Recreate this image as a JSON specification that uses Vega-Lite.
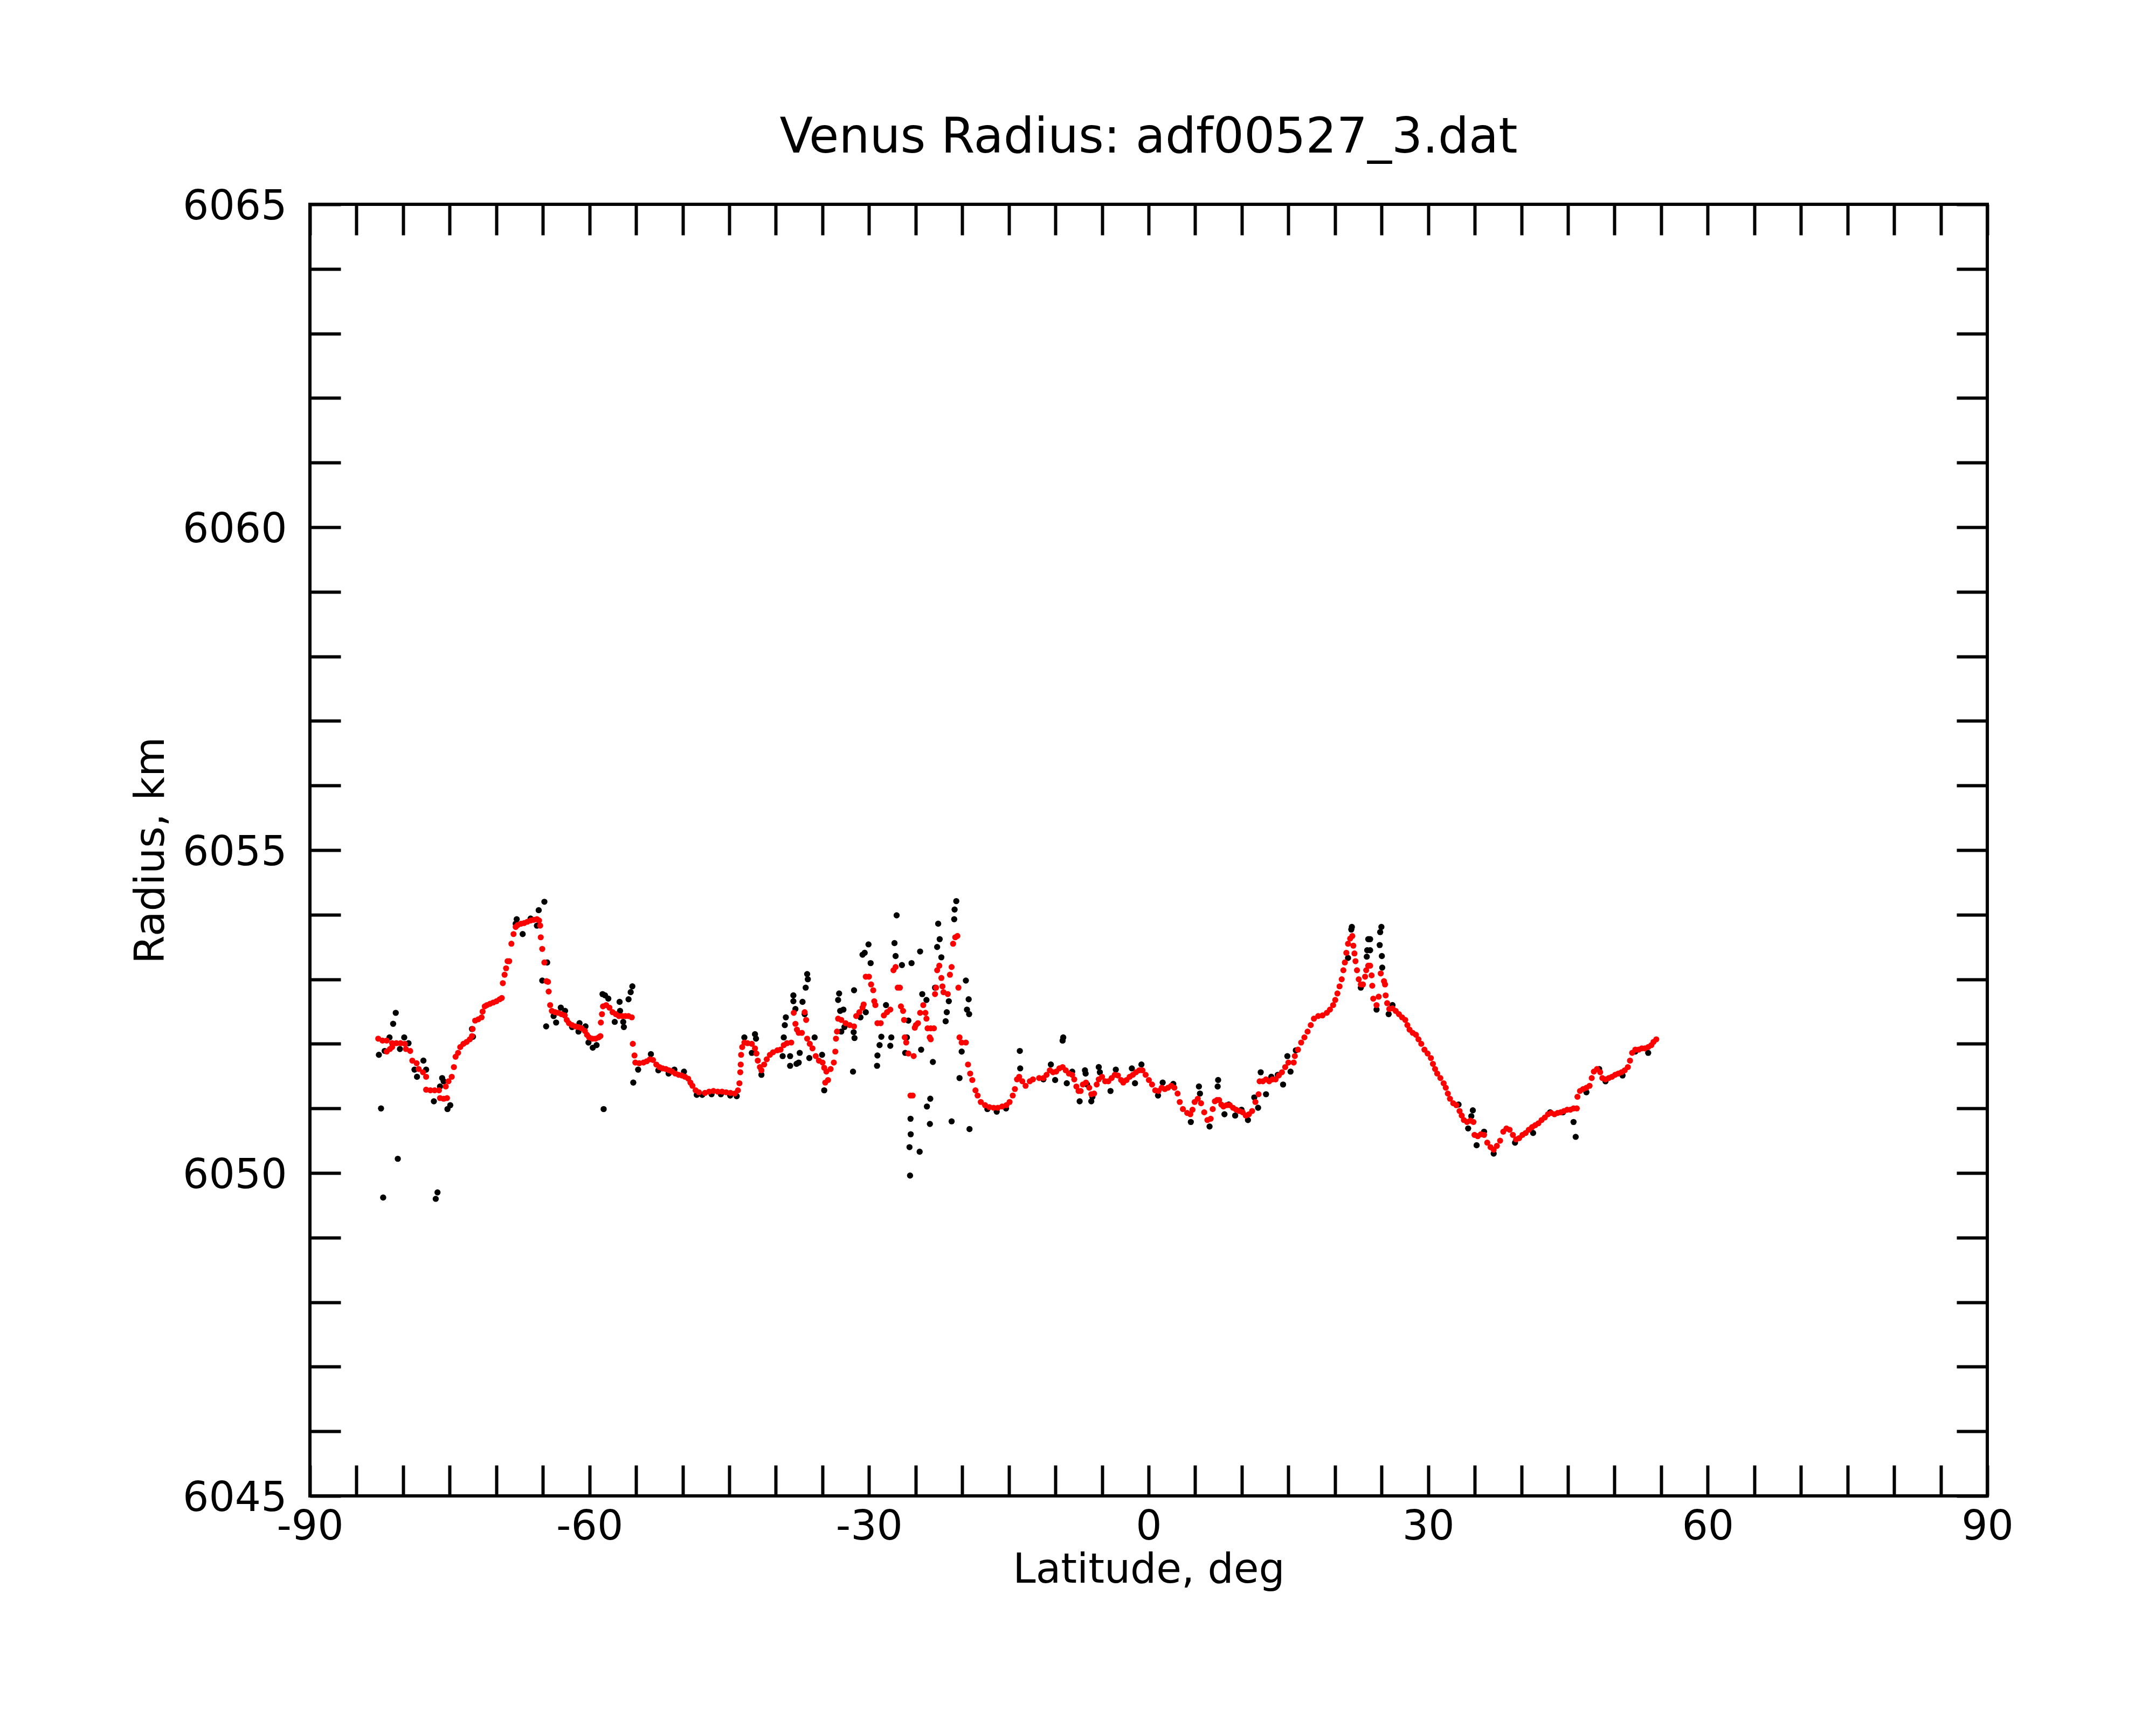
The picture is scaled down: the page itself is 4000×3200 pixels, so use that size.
{
  "$schema": "https://vega.github.io/schema/vega-lite/v6.json",
  "width": 3112,
  "height": 2396,
  "autosize": {"type": "none"},
  "padding": {"left": 575, "top": 379, "right": 313, "bottom": 425},
  "background": "white",
  "title": {
    "text": "Venus Radius: adf00527_3.dat",
    "font": "DejaVu Sans",
    "fontSize": 90,
    "fontWeight": "normal",
    "color": "black",
    "anchor": "middle",
    "baseline": "alphabetic",
    "offset": 94,
    "dy": 122
  },
  "config": {
    "view": {"stroke": "black", "strokeWidth": 6},
    "axis": {
      "labelFont": "DejaVu Sans",
      "labelFontSize": 76,
      "labelColor": "black",
      "labelLimit": 0,
      "titleFont": "DejaVu Sans",
      "titleFontSize": 76,
      "titleFontWeight": "normal",
      "titleColor": "black",
      "labelFlush": false,
      "labelOverlap": false,
      "labelExpr": "'' + datum.value",
      "ticks": false,
      "domain": false,
      "grid": true,
      "gridColor": "black",
      "gridOpacity": 1,
      "gridWidth": 6
    }
  },
  "datasets": {
    "smooth": [
      {"lat": -82.67, "r": 6052.08}, {"lat": -82.21, "r": 6052.05}, {"lat": -81.76, "r": 6052.05}, {"lat": -81.76, "r": 6051.88},
      {"lat": -81.41, "r": 6051.92}, {"lat": -81.18, "r": 6051.95}, {"lat": -81.18, "r": 6052.01}, {"lat": -80.73, "r": 6052.01},
      {"lat": -80.27, "r": 6052.01}, {"lat": -79.81, "r": 6052.0}, {"lat": -79.7, "r": 6051.92}, {"lat": -79.24, "r": 6051.89},
      {"lat": -79.01, "r": 6051.74}, {"lat": -78.55, "r": 6051.7}, {"lat": -78.33, "r": 6051.61}, {"lat": -77.87, "r": 6051.56},
      {"lat": -77.53, "r": 6051.49}, {"lat": -77.53, "r": 6051.29}, {"lat": -77.07, "r": 6051.28}, {"lat": -76.61, "r": 6051.28},
      {"lat": -76.15, "r": 6051.28}, {"lat": -76.04, "r": 6051.16}, {"lat": -75.65, "r": 6051.15}, {"lat": -75.29, "r": 6051.16},
      {"lat": -75.42, "r": 6051.34}, {"lat": -75.13, "r": 6051.42}, {"lat": -74.78, "r": 6051.49}, {"lat": -74.55, "r": 6051.64},
      {"lat": -74.37, "r": 6051.8}, {"lat": -74.1, "r": 6051.86}, {"lat": -73.87, "r": 6051.95}, {"lat": -73.53, "r": 6052.0},
      {"lat": -73.18, "r": 6052.03}, {"lat": -72.84, "r": 6052.07}, {"lat": -72.61, "r": 6052.12}, {"lat": -72.54, "r": 6052.23},
      {"lat": -72.27, "r": 6052.36}, {"lat": -71.93, "r": 6052.38}, {"lat": -71.58, "r": 6052.41}, {"lat": -71.47, "r": 6052.5},
      {"lat": -71.24, "r": 6052.58}, {"lat": -71.01, "r": 6052.6}, {"lat": -70.67, "r": 6052.62}, {"lat": -70.33, "r": 6052.64},
      {"lat": -69.98, "r": 6052.66}, {"lat": -69.64, "r": 6052.69}, {"lat": -69.41, "r": 6052.71}, {"lat": -69.3, "r": 6052.94},
      {"lat": -69.11, "r": 6053.07}, {"lat": -68.95, "r": 6053.17}, {"lat": -68.79, "r": 6053.28}, {"lat": -68.61, "r": 6053.28},
      {"lat": -68.38, "r": 6053.55}, {"lat": -68.15, "r": 6053.7}, {"lat": -67.92, "r": 6053.81}, {"lat": -67.7, "r": 6053.84},
      {"lat": -67.35, "r": 6053.86}, {"lat": -67.01, "r": 6053.87}, {"lat": -66.67, "r": 6053.89}, {"lat": -66.32, "r": 6053.91},
      {"lat": -65.98, "r": 6053.92}, {"lat": -65.64, "r": 6053.93}, {"lat": -65.41, "r": 6053.91}, {"lat": -65.29, "r": 6053.83},
      {"lat": -65.23, "r": 6053.65}, {"lat": -65.07, "r": 6053.47}, {"lat": -64.84, "r": 6053.26}, {"lat": -64.61, "r": 6052.97},
      {"lat": -64.45, "r": 6052.96}, {"lat": -64.38, "r": 6052.81}, {"lat": -64.22, "r": 6052.6}, {"lat": -64.04, "r": 6052.51},
      {"lat": -63.69, "r": 6052.49}, {"lat": -63.35, "r": 6052.48}, {"lat": -63.01, "r": 6052.46}, {"lat": -62.66, "r": 6052.44},
      {"lat": -62.44, "r": 6052.37}, {"lat": -62.21, "r": 6052.32}, {"lat": -61.87, "r": 6052.29}, {"lat": -61.52, "r": 6052.27},
      {"lat": -61.18, "r": 6052.26}, {"lat": -60.84, "r": 6052.24}, {"lat": -60.49, "r": 6052.2}, {"lat": -60.27, "r": 6052.14},
      {"lat": -60.04, "r": 6052.1}, {"lat": -59.69, "r": 6052.08}, {"lat": -59.35, "r": 6052.08}, {"lat": -59.01, "r": 6052.1},
      {"lat": -58.83, "r": 6052.12}, {"lat": -58.78, "r": 6052.33}, {"lat": -58.66, "r": 6052.46}, {"lat": -58.55, "r": 6052.58},
      {"lat": -58.21, "r": 6052.6}, {"lat": -57.86, "r": 6052.56}, {"lat": -57.52, "r": 6052.49}, {"lat": -57.18, "r": 6052.46},
      {"lat": -56.84, "r": 6052.43}, {"lat": -56.49, "r": 6052.43}, {"lat": -56.15, "r": 6052.43}, {"lat": -55.81, "r": 6052.43},
      {"lat": -55.46, "r": 6052.41}, {"lat": -55.35, "r": 6052.0}, {"lat": -55.17, "r": 6051.82}, {"lat": -55.08, "r": 6051.71},
      {"lat": -54.66, "r": 6051.7}, {"lat": -54.2, "r": 6051.71}, {"lat": -53.86, "r": 6051.73}, {"lat": -53.52, "r": 6051.76},
      {"lat": -53.18, "r": 6051.75}, {"lat": -52.83, "r": 6051.68}, {"lat": -52.49, "r": 6051.64}, {"lat": -52.15, "r": 6051.62},
      {"lat": -51.8, "r": 6051.61}, {"lat": -51.46, "r": 6051.59}, {"lat": -51.12, "r": 6051.57}, {"lat": -50.78, "r": 6051.54},
      {"lat": -50.43, "r": 6051.52}, {"lat": -50.09, "r": 6051.51}, {"lat": -49.75, "r": 6051.49}, {"lat": -49.4, "r": 6051.46},
      {"lat": -49.17, "r": 6051.4}, {"lat": -48.95, "r": 6051.35}, {"lat": -48.61, "r": 6051.28}, {"lat": -48.26, "r": 6051.25},
      {"lat": -47.61, "r": 6051.24}, {"lat": -47.16, "r": 6051.26}, {"lat": -46.7, "r": 6051.27}, {"lat": -46.24, "r": 6051.26},
      {"lat": -45.78, "r": 6051.26}, {"lat": -45.33, "r": 6051.25}, {"lat": -44.87, "r": 6051.24}, {"lat": -44.41, "r": 6051.23},
      {"lat": -44.07, "r": 6051.28}, {"lat": -43.91, "r": 6051.39}, {"lat": -43.82, "r": 6051.56}, {"lat": -43.77, "r": 6051.68},
      {"lat": -43.73, "r": 6051.83}, {"lat": -43.61, "r": 6051.95}, {"lat": -43.38, "r": 6052.02}, {"lat": -43.04, "r": 6052.01},
      {"lat": -42.58, "r": 6052.0}, {"lat": -42.24, "r": 6051.93}, {"lat": -42.08, "r": 6051.85}, {"lat": -41.94, "r": 6051.74},
      {"lat": -41.71, "r": 6051.64}, {"lat": -41.55, "r": 6051.59}, {"lat": -41.26, "r": 6051.68}, {"lat": -40.98, "r": 6051.76},
      {"lat": -40.64, "r": 6051.83}, {"lat": -40.3, "r": 6051.87}, {"lat": -39.84, "r": 6051.9}, {"lat": -39.5, "r": 6051.91},
      {"lat": -39.15, "r": 6051.98}, {"lat": -38.81, "r": 6052.01}, {"lat": -38.35, "r": 6052.02}, {"lat": -38.08, "r": 6052.48},
      {"lat": -37.9, "r": 6052.31}, {"lat": -37.74, "r": 6052.22}, {"lat": -37.55, "r": 6052.17}, {"lat": -37.21, "r": 6052.17},
      {"lat": -36.91, "r": 6052.49}, {"lat": -36.75, "r": 6052.37}, {"lat": -36.64, "r": 6052.08}, {"lat": -36.36, "r": 6052.0},
      {"lat": -36.07, "r": 6051.93}, {"lat": -35.72, "r": 6051.81}, {"lat": -35.38, "r": 6051.74}, {"lat": -34.99, "r": 6051.71},
      {"lat": -34.81, "r": 6051.63}, {"lat": -34.58, "r": 6051.57}, {"lat": -34.4, "r": 6051.44}, {"lat": -34.7, "r": 6051.4},
      {"lat": -34.12, "r": 6051.61}, {"lat": -33.78, "r": 6051.71}, {"lat": -33.62, "r": 6051.88}, {"lat": -33.55, "r": 6052.08},
      {"lat": -33.44, "r": 6052.19}, {"lat": -33.32, "r": 6052.39}, {"lat": -32.98, "r": 6052.37}, {"lat": -32.52, "r": 6052.32},
      {"lat": -32.07, "r": 6052.29}, {"lat": -31.61, "r": 6052.27}, {"lat": -31.38, "r": 6052.43}, {"lat": -31.04, "r": 6052.49},
      {"lat": -30.7, "r": 6052.56}, {"lat": -30.58, "r": 6052.61}, {"lat": -30.35, "r": 6053.04}, {"lat": -30.01, "r": 6053.04},
      {"lat": -29.78, "r": 6052.92}, {"lat": -29.55, "r": 6052.83}, {"lat": -29.44, "r": 6052.66}, {"lat": -29.32, "r": 6052.6},
      {"lat": -29.1, "r": 6052.32}, {"lat": -28.75, "r": 6052.32}, {"lat": -28.41, "r": 6052.44}, {"lat": -28.07, "r": 6052.49},
      {"lat": -27.72, "r": 6052.53}, {"lat": -27.38, "r": 6053.14}, {"lat": -27.15, "r": 6053.19}, {"lat": -26.92, "r": 6052.87},
      {"lat": -26.69, "r": 6052.87}, {"lat": -26.58, "r": 6052.58}, {"lat": -26.35, "r": 6052.51}, {"lat": -26.24, "r": 6052.37},
      {"lat": -26.17, "r": 6052.1}, {"lat": -26.01, "r": 6052.02}, {"lat": -25.78, "r": 6051.85}, {"lat": -25.21, "r": 6051.81},
      {"lat": -25.55, "r": 6051.2}, {"lat": -25.32, "r": 6051.2}, {"lat": -25.09, "r": 6052.25}, {"lat": -24.98, "r": 6052.29},
      {"lat": -24.75, "r": 6052.32}, {"lat": -24.52, "r": 6052.48}, {"lat": -24.18, "r": 6052.6}, {"lat": -23.95, "r": 6052.48},
      {"lat": -23.84, "r": 6052.39}, {"lat": -23.72, "r": 6052.24}, {"lat": -23.38, "r": 6052.24}, {"lat": -23.04, "r": 6052.24},
      {"lat": -23.49, "r": 6052.1}, {"lat": -23.38, "r": 6052.07}, {"lat": -22.92, "r": 6052.77}, {"lat": -22.81, "r": 6052.87},
      {"lat": -22.69, "r": 6053.14}, {"lat": -22.46, "r": 6053.21}, {"lat": -22.24, "r": 6053.02}, {"lat": -22.12, "r": 6052.89},
      {"lat": -22.01, "r": 6052.8}, {"lat": -21.55, "r": 6052.77}, {"lat": -21.32, "r": 6053.07}, {"lat": -21.14, "r": 6053.19},
      {"lat": -20.98, "r": 6053.55}, {"lat": -20.75, "r": 6053.65}, {"lat": -20.52, "r": 6053.67}, {"lat": -20.41, "r": 6052.87},
      {"lat": -20.29, "r": 6052.1}, {"lat": -20.06, "r": 6052.02}, {"lat": -19.61, "r": 6052.02}, {"lat": -19.38, "r": 6051.68},
      {"lat": -19.15, "r": 6051.54}, {"lat": -18.92, "r": 6051.44}, {"lat": -18.58, "r": 6051.28}, {"lat": -18.35, "r": 6051.2},
      {"lat": -18.01, "r": 6051.1}, {"lat": -17.55, "r": 6051.05}, {"lat": -17.09, "r": 6051.02}, {"lat": -16.63, "r": 6051.01},
      {"lat": -16.18, "r": 6051.01}, {"lat": -15.72, "r": 6051.03}, {"lat": -15.26, "r": 6051.05}, {"lat": -14.92, "r": 6051.1},
      {"lat": -14.58, "r": 6051.2}, {"lat": -14.35, "r": 6051.3}, {"lat": -14.12, "r": 6051.45}, {"lat": -13.89, "r": 6051.49},
      {"lat": -13.55, "r": 6051.42}, {"lat": -13.2, "r": 6051.35}, {"lat": -12.75, "r": 6051.42}, {"lat": -12.41, "r": 6051.45},
      {"lat": -11.75, "r": 6051.47}, {"lat": -11.29, "r": 6051.47}, {"lat": -10.95, "r": 6051.52}, {"lat": -10.6, "r": 6051.59},
      {"lat": -10.26, "r": 6051.56}, {"lat": -9.92, "r": 6051.57}, {"lat": -9.58, "r": 6051.62}, {"lat": -9.23, "r": 6051.64},
      {"lat": -8.89, "r": 6051.59}, {"lat": -8.55, "r": 6051.54}, {"lat": -8.2, "r": 6051.52}, {"lat": -7.98, "r": 6051.45},
      {"lat": -7.75, "r": 6051.34}, {"lat": -7.52, "r": 6051.27}, {"lat": -7.29, "r": 6051.27}, {"lat": -7.06, "r": 6051.37},
      {"lat": -6.72, "r": 6051.4}, {"lat": -6.37, "r": 6051.32}, {"lat": -6.15, "r": 6051.22}, {"lat": -5.85, "r": 6051.23},
      {"lat": -5.57, "r": 6051.37}, {"lat": -5.35, "r": 6051.45}, {"lat": -5.0, "r": 6051.49}, {"lat": -4.66, "r": 6051.42},
      {"lat": -4.32, "r": 6051.42}, {"lat": -3.97, "r": 6051.47}, {"lat": -3.63, "r": 6051.52}, {"lat": -3.29, "r": 6051.51},
      {"lat": -2.95, "r": 6051.44}, {"lat": -2.72, "r": 6051.4}, {"lat": -2.37, "r": 6051.44}, {"lat": -2.03, "r": 6051.49},
      {"lat": -1.69, "r": 6051.52}, {"lat": -1.35, "r": 6051.56}, {"lat": -1.0, "r": 6051.59}, {"lat": -0.66, "r": 6051.59},
      {"lat": -0.32, "r": 6051.52}, {"lat": 0.03, "r": 6051.44}, {"lat": 0.37, "r": 6051.37}, {"lat": 0.71, "r": 6051.28},
      {"lat": 1.06, "r": 6051.27}, {"lat": 1.4, "r": 6051.32}, {"lat": 1.74, "r": 6051.3}, {"lat": 2.08, "r": 6051.32},
      {"lat": 2.43, "r": 6051.35}, {"lat": 2.77, "r": 6051.32}, {"lat": 3.11, "r": 6051.23}, {"lat": 3.34, "r": 6051.1},
      {"lat": 3.68, "r": 6050.99}, {"lat": 4.14, "r": 6050.93}, {"lat": 4.48, "r": 6050.91}, {"lat": 4.71, "r": 6050.98},
      {"lat": 4.94, "r": 6051.1}, {"lat": 5.28, "r": 6051.15}, {"lat": 5.63, "r": 6051.08}, {"lat": 5.97, "r": 6050.94},
      {"lat": 6.31, "r": 6050.82}, {"lat": 6.66, "r": 6050.84}, {"lat": 6.88, "r": 6050.99}, {"lat": 7.11, "r": 6051.11},
      {"lat": 7.34, "r": 6051.13}, {"lat": 7.57, "r": 6051.13}, {"lat": 7.8, "r": 6051.06}, {"lat": 8.03, "r": 6051.03},
      {"lat": 8.37, "r": 6051.05}, {"lat": 8.71, "r": 6051.05}, {"lat": 9.06, "r": 6051.01}, {"lat": 9.4, "r": 6050.98},
      {"lat": 9.74, "r": 6050.96}, {"lat": 10.09, "r": 6050.94}, {"lat": 10.43, "r": 6050.89}, {"lat": 10.77, "r": 6050.91},
      {"lat": 11.11, "r": 6050.96}, {"lat": 11.46, "r": 6051.1}, {"lat": 11.8, "r": 6051.22}, {"lat": 11.91, "r": 6051.42},
      {"lat": 12.26, "r": 6051.42}, {"lat": 12.6, "r": 6051.45}, {"lat": 12.94, "r": 6051.42}, {"lat": 13.29, "r": 6051.45},
      {"lat": 13.63, "r": 6051.45}, {"lat": 13.97, "r": 6051.51}, {"lat": 14.31, "r": 6051.56}, {"lat": 14.66, "r": 6051.64},
      {"lat": 15.0, "r": 6051.71}, {"lat": 15.57, "r": 6051.71}, {"lat": 15.69, "r": 6051.81}, {"lat": 16.03, "r": 6051.91},
      {"lat": 16.37, "r": 6052.02}, {"lat": 16.72, "r": 6052.1}, {"lat": 17.06, "r": 6052.19}, {"lat": 17.4, "r": 6052.29},
      {"lat": 17.74, "r": 6052.39}, {"lat": 18.2, "r": 6052.43}, {"lat": 18.66, "r": 6052.44}, {"lat": 19.12, "r": 6052.48},
      {"lat": 19.46, "r": 6052.53}, {"lat": 19.8, "r": 6052.6}, {"lat": 20.03, "r": 6052.68}, {"lat": 20.26, "r": 6052.78},
      {"lat": 20.49, "r": 6052.89}, {"lat": 20.72, "r": 6053.0}, {"lat": 20.9, "r": 6053.14}, {"lat": 21.06, "r": 6053.26},
      {"lat": 21.22, "r": 6053.41}, {"lat": 21.4, "r": 6053.55}, {"lat": 21.63, "r": 6053.63}, {"lat": 21.86, "r": 6053.67},
      {"lat": 21.97, "r": 6053.52}, {"lat": 22.09, "r": 6053.4}, {"lat": 22.2, "r": 6053.28}, {"lat": 22.36, "r": 6053.14},
      {"lat": 22.55, "r": 6053.0}, {"lat": 22.77, "r": 6052.92}, {"lat": 23.0, "r": 6052.92}, {"lat": 23.23, "r": 6053.04},
      {"lat": 23.35, "r": 6053.14}, {"lat": 23.57, "r": 6053.21}, {"lat": 23.77, "r": 6053.21}, {"lat": 23.93, "r": 6053.06},
      {"lat": 24.0, "r": 6052.9}, {"lat": 24.11, "r": 6052.7}, {"lat": 24.46, "r": 6052.6}, {"lat": 24.69, "r": 6052.73},
      {"lat": 24.91, "r": 6053.09}, {"lat": 25.26, "r": 6052.97}, {"lat": 25.37, "r": 6052.92}, {"lat": 25.44, "r": 6052.75},
      {"lat": 25.6, "r": 6052.63}, {"lat": 25.83, "r": 6052.54}, {"lat": 26.17, "r": 6052.55}, {"lat": 26.51, "r": 6052.51},
      {"lat": 26.86, "r": 6052.46}, {"lat": 27.2, "r": 6052.41}, {"lat": 27.54, "r": 6052.37}, {"lat": 27.77, "r": 6052.29},
      {"lat": 28.0, "r": 6052.22}, {"lat": 28.34, "r": 6052.17}, {"lat": 28.69, "r": 6052.14}, {"lat": 28.96, "r": 6052.07},
      {"lat": 29.26, "r": 6052.0}, {"lat": 29.6, "r": 6051.91}, {"lat": 29.94, "r": 6051.85}, {"lat": 30.29, "r": 6051.78},
      {"lat": 30.51, "r": 6051.69}, {"lat": 30.74, "r": 6051.61}, {"lat": 30.97, "r": 6051.54}, {"lat": 31.31, "r": 6051.47},
      {"lat": 31.66, "r": 6051.39}, {"lat": 31.89, "r": 6051.32}, {"lat": 32.11, "r": 6051.23}, {"lat": 32.34, "r": 6051.15},
      {"lat": 32.69, "r": 6051.08}, {"lat": 33.03, "r": 6051.05}, {"lat": 33.37, "r": 6050.96}, {"lat": 33.6, "r": 6050.89},
      {"lat": 33.83, "r": 6050.82}, {"lat": 34.17, "r": 6050.79}, {"lat": 34.52, "r": 6050.81}, {"lat": 34.86, "r": 6050.79},
      {"lat": 34.97, "r": 6050.59}, {"lat": 35.32, "r": 6050.57}, {"lat": 35.66, "r": 6050.6}, {"lat": 36.0, "r": 6050.59},
      {"lat": 36.34, "r": 6050.47}, {"lat": 36.69, "r": 6050.4}, {"lat": 37.03, "r": 6050.36}, {"lat": 37.37, "r": 6050.42},
      {"lat": 37.72, "r": 6050.5}, {"lat": 38.06, "r": 6050.64}, {"lat": 38.4, "r": 6050.69}, {"lat": 38.74, "r": 6050.67},
      {"lat": 39.09, "r": 6050.59}, {"lat": 39.43, "r": 6050.52}, {"lat": 39.77, "r": 6050.54}, {"lat": 40.12, "r": 6050.59},
      {"lat": 40.46, "r": 6050.62}, {"lat": 40.8, "r": 6050.67}, {"lat": 41.15, "r": 6050.71}, {"lat": 41.49, "r": 6050.74},
      {"lat": 41.83, "r": 6050.77}, {"lat": 42.17, "r": 6050.82}, {"lat": 42.52, "r": 6050.86}, {"lat": 42.86, "r": 6050.91},
      {"lat": 43.2, "r": 6050.93}, {"lat": 43.55, "r": 6050.91}, {"lat": 43.89, "r": 6050.93}, {"lat": 44.23, "r": 6050.94},
      {"lat": 44.58, "r": 6050.96}, {"lat": 44.92, "r": 6050.98}, {"lat": 45.26, "r": 6050.98}, {"lat": 45.6, "r": 6051.0},
      {"lat": 45.95, "r": 6051.0}, {"lat": 46.02, "r": 6051.18}, {"lat": 46.29, "r": 6051.27}, {"lat": 46.63, "r": 6051.3},
      {"lat": 46.98, "r": 6051.32}, {"lat": 47.32, "r": 6051.35}, {"lat": 47.55, "r": 6051.47}, {"lat": 47.78, "r": 6051.57},
      {"lat": 48.12, "r": 6051.61}, {"lat": 48.46, "r": 6051.56}, {"lat": 48.69, "r": 6051.47}, {"lat": 49.03, "r": 6051.45},
      {"lat": 49.38, "r": 6051.47}, {"lat": 49.72, "r": 6051.49}, {"lat": 50.06, "r": 6051.52}, {"lat": 50.4, "r": 6051.54},
      {"lat": 50.75, "r": 6051.56}, {"lat": 51.09, "r": 6051.59}, {"lat": 51.43, "r": 6051.64}, {"lat": 51.66, "r": 6051.74},
      {"lat": 51.89, "r": 6051.86}, {"lat": 52.23, "r": 6051.91}, {"lat": 52.58, "r": 6051.91}, {"lat": 52.92, "r": 6051.93},
      {"lat": 53.26, "r": 6051.93}, {"lat": 53.61, "r": 6051.95}, {"lat": 53.95, "r": 6051.98}, {"lat": 54.18, "r": 6052.03},
      {"lat": 54.48, "r": 6052.07}
    ],
    "raw": [
      {"lat": -82.6, "r": 6051.83}, {"lat": -82.37, "r": 6051.0}, {"lat": -82.14, "r": 6049.62}, {"lat": -81.98, "r": 6051.89},
      {"lat": -81.46, "r": 6052.1}, {"lat": -81.07, "r": 6052.31}, {"lat": -80.79, "r": 6052.48}, {"lat": -80.57, "r": 6050.22},
      {"lat": -80.34, "r": 6051.92}, {"lat": -79.88, "r": 6052.1}, {"lat": -79.42, "r": 6052.01}, {"lat": -78.78, "r": 6051.6},
      {"lat": -78.51, "r": 6051.49}, {"lat": -77.82, "r": 6051.74}, {"lat": -77.53, "r": 6051.6}, {"lat": -76.7, "r": 6051.11},
      {"lat": -76.5, "r": 6049.6}, {"lat": -76.31, "r": 6049.7}, {"lat": -76.04, "r": 6051.34}, {"lat": -75.81, "r": 6051.47},
      {"lat": -75.65, "r": 6051.42}, {"lat": -75.24, "r": 6050.99}, {"lat": -74.94, "r": 6051.05}, {"lat": -72.61, "r": 6052.23},
      {"lat": -72.5, "r": 6052.11}, {"lat": -67.92, "r": 6053.86}, {"lat": -67.81, "r": 6053.93}, {"lat": -67.17, "r": 6053.7},
      {"lat": -66.32, "r": 6053.94}, {"lat": -65.64, "r": 6053.83}, {"lat": -65.45, "r": 6054.07}, {"lat": -64.84, "r": 6054.2},
      {"lat": -65.07, "r": 6052.98}, {"lat": -64.54, "r": 6053.26}, {"lat": -64.65, "r": 6052.27}, {"lat": -63.85, "r": 6052.43},
      {"lat": -63.58, "r": 6052.33}, {"lat": -63.08, "r": 6052.56}, {"lat": -62.62, "r": 6052.51}, {"lat": -61.87, "r": 6052.26},
      {"lat": -61.18, "r": 6052.19}, {"lat": -61.07, "r": 6052.32}, {"lat": -60.43, "r": 6052.27}, {"lat": -60.11, "r": 6052.02},
      {"lat": -59.65, "r": 6051.94}, {"lat": -59.24, "r": 6051.98}, {"lat": -58.6, "r": 6052.77}, {"lat": -58.33, "r": 6052.75},
      {"lat": -57.98, "r": 6052.7}, {"lat": -58.48, "r": 6050.99}, {"lat": -57.29, "r": 6052.34}, {"lat": -56.77, "r": 6052.65},
      {"lat": -56.72, "r": 6052.51}, {"lat": -56.38, "r": 6052.34}, {"lat": -56.31, "r": 6052.26}, {"lat": -55.81, "r": 6052.69},
      {"lat": -55.58, "r": 6052.8}, {"lat": -55.4, "r": 6052.89}, {"lat": -55.3, "r": 6051.4}, {"lat": -54.78, "r": 6051.6},
      {"lat": -53.41, "r": 6051.84}, {"lat": -52.61, "r": 6051.59}, {"lat": -51.51, "r": 6051.54}, {"lat": -50.89, "r": 6051.6},
      {"lat": -49.86, "r": 6051.57}, {"lat": -48.49, "r": 6051.21}, {"lat": -47.9, "r": 6051.21}, {"lat": -46.9, "r": 6051.22},
      {"lat": -45.9, "r": 6051.22}, {"lat": -44.9, "r": 6051.2}, {"lat": -44.2, "r": 6051.19}, {"lat": -43.38, "r": 6052.1},
      {"lat": -42.24, "r": 6052.15}, {"lat": -42.13, "r": 6052.08}, {"lat": -42.58, "r": 6051.86}, {"lat": -41.55, "r": 6051.52},
      {"lat": -38.93, "r": 6052.41}, {"lat": -39.04, "r": 6052.29}, {"lat": -39.15, "r": 6052.1}, {"lat": -39.27, "r": 6051.81},
      {"lat": -38.47, "r": 6051.66}, {"lat": -38.12, "r": 6052.75}, {"lat": -38.12, "r": 6052.66}, {"lat": -37.9, "r": 6052.54},
      {"lat": -37.14, "r": 6052.65}, {"lat": -36.91, "r": 6052.46}, {"lat": -36.64, "r": 6053.08}, {"lat": -36.57, "r": 6053.0},
      {"lat": -36.8, "r": 6052.87}, {"lat": -37.44, "r": 6051.86}, {"lat": -37.55, "r": 6051.71}, {"lat": -37.78, "r": 6051.69},
      {"lat": -38.47, "r": 6051.81}, {"lat": -36.41, "r": 6051.78}, {"lat": -35.84, "r": 6052.1}, {"lat": -35.04, "r": 6051.83},
      {"lat": -34.81, "r": 6051.28}, {"lat": -33.21, "r": 6052.78}, {"lat": -33.32, "r": 6052.68}, {"lat": -33.1, "r": 6052.51},
      {"lat": -32.75, "r": 6052.53}, {"lat": -32.98, "r": 6052.19}, {"lat": -32.64, "r": 6052.26}, {"lat": -31.61, "r": 6052.83},
      {"lat": -31.65, "r": 6052.18}, {"lat": -31.56, "r": 6052.09}, {"lat": -31.72, "r": 6051.57}, {"lat": -30.7, "r": 6053.38},
      {"lat": -30.47, "r": 6053.41}, {"lat": -30.06, "r": 6053.54}, {"lat": -29.83, "r": 6053.25}, {"lat": -30.92, "r": 6052.41},
      {"lat": -30.35, "r": 6052.49}, {"lat": -29.1, "r": 6051.82}, {"lat": -29.14, "r": 6051.66}, {"lat": -28.87, "r": 6051.98},
      {"lat": -28.68, "r": 6052.11}, {"lat": -28.18, "r": 6052.6}, {"lat": -27.61, "r": 6052.1}, {"lat": -27.72, "r": 6051.97},
      {"lat": -27.04, "r": 6053.99}, {"lat": -27.27, "r": 6053.56}, {"lat": -27.15, "r": 6053.36}, {"lat": -26.47, "r": 6053.22},
      {"lat": -25.44, "r": 6053.25}, {"lat": -26.12, "r": 6051.86}, {"lat": -25.94, "r": 6052.1}, {"lat": -25.78, "r": 6052.36},
      {"lat": -24.52, "r": 6053.43}, {"lat": -24.41, "r": 6051.91}, {"lat": -24.29, "r": 6052.77}, {"lat": -23.84, "r": 6052.68},
      {"lat": -23.15, "r": 6051.72}, {"lat": -22.58, "r": 6053.86}, {"lat": -22.42, "r": 6053.62}, {"lat": -22.69, "r": 6053.5},
      {"lat": -22.24, "r": 6053.34}, {"lat": -22.92, "r": 6052.87}, {"lat": -21.44, "r": 6052.66}, {"lat": -21.66, "r": 6052.49},
      {"lat": -21.78, "r": 6052.35}, {"lat": -20.64, "r": 6054.21}, {"lat": -20.82, "r": 6054.08}, {"lat": -20.86, "r": 6053.93},
      {"lat": -19.61, "r": 6052.98}, {"lat": -19.31, "r": 6052.69}, {"lat": -19.49, "r": 6052.53}, {"lat": -19.26, "r": 6052.46},
      {"lat": -20.06, "r": 6051.88}, {"lat": -20.29, "r": 6051.47}, {"lat": -19.22, "r": 6050.68}, {"lat": -21.14, "r": 6050.8},
      {"lat": -13.82, "r": 6051.89}, {"lat": -13.78, "r": 6051.62}, {"lat": -25.55, "r": 6050.84}, {"lat": -25.53, "r": 6050.6},
      {"lat": -25.66, "r": 6050.4}, {"lat": -25.6, "r": 6049.96}, {"lat": -24.57, "r": 6050.33}, {"lat": -23.43, "r": 6051.15},
      {"lat": -23.79, "r": 6051.03}, {"lat": -23.47, "r": 6050.76}, {"lat": -17.3, "r": 6050.99}, {"lat": -16.3, "r": 6050.95},
      {"lat": -15.3, "r": 6051.0}, {"lat": -9.23, "r": 6052.05}, {"lat": -9.16, "r": 6052.1}, {"lat": -10.49, "r": 6051.68},
      {"lat": -10.03, "r": 6051.44}, {"lat": -11.29, "r": 6051.45}, {"lat": -8.78, "r": 6051.39}, {"lat": -8.2, "r": 6051.57},
      {"lat": -7.4, "r": 6051.11}, {"lat": -6.83, "r": 6051.59}, {"lat": -6.76, "r": 6051.54}, {"lat": -6.6, "r": 6051.37},
      {"lat": -6.15, "r": 6051.11}, {"lat": -6.03, "r": 6051.18}, {"lat": -5.35, "r": 6051.64}, {"lat": -5.23, "r": 6051.56},
      {"lat": -4.09, "r": 6051.27}, {"lat": -3.52, "r": 6051.6}, {"lat": -1.8, "r": 6051.62}, {"lat": -0.77, "r": 6051.68},
      {"lat": -1.46, "r": 6051.39}, {"lat": 1.01, "r": 6051.2}, {"lat": 1.51, "r": 6051.4}, {"lat": 2.65, "r": 6051.38},
      {"lat": 5.4, "r": 6051.34}, {"lat": 4.53, "r": 6050.79}, {"lat": 5.51, "r": 6051.23}, {"lat": 6.54, "r": 6050.72},
      {"lat": 7.46, "r": 6051.44}, {"lat": 7.41, "r": 6051.34}, {"lat": 8.14, "r": 6050.91}, {"lat": 8.6, "r": 6051.06},
      {"lat": 9.29, "r": 6050.89}, {"lat": 9.97, "r": 6050.98}, {"lat": 10.66, "r": 6050.82}, {"lat": 11.34, "r": 6051.17},
      {"lat": 11.75, "r": 6051.01}, {"lat": 12.03, "r": 6051.56}, {"lat": 12.6, "r": 6051.22}, {"lat": 13.17, "r": 6051.49},
      {"lat": 13.86, "r": 6051.52}, {"lat": 14.43, "r": 6051.37}, {"lat": 14.89, "r": 6051.81}, {"lat": 15.23, "r": 6051.57},
      {"lat": 15.8, "r": 6051.9}, {"lat": 21.81, "r": 6053.81}, {"lat": 21.75, "r": 6053.77}, {"lat": 21.4, "r": 6053.33},
      {"lat": 23.57, "r": 6053.62}, {"lat": 23.46, "r": 6053.45}, {"lat": 23.41, "r": 6053.35}, {"lat": 22.77, "r": 6052.87},
      {"lat": 24.98, "r": 6053.81}, {"lat": 24.85, "r": 6053.73}, {"lat": 23.77, "r": 6053.62}, {"lat": 23.77, "r": 6053.45},
      {"lat": 24.8, "r": 6053.53}, {"lat": 25.03, "r": 6053.36}, {"lat": 25.07, "r": 6053.18}, {"lat": 24.46, "r": 6052.53},
      {"lat": 25.76, "r": 6052.46}, {"lat": 26.17, "r": 6052.6}, {"lat": 33.26, "r": 6051.06}, {"lat": 34.79, "r": 6050.97},
      {"lat": 34.63, "r": 6050.88}, {"lat": 34.29, "r": 6050.69}, {"lat": 35.2, "r": 6050.43}, {"lat": 36.0, "r": 6050.64},
      {"lat": 37.03, "r": 6050.3}, {"lat": 39.32, "r": 6050.47}, {"lat": 41.26, "r": 6050.62}, {"lat": 43.09, "r": 6050.94},
      {"lat": 44.46, "r": 6050.94}, {"lat": 45.6, "r": 6050.79}, {"lat": 45.83, "r": 6050.56}, {"lat": 46.98, "r": 6051.25},
      {"lat": 48.35, "r": 6051.61}, {"lat": 49.03, "r": 6051.42}, {"lat": 50.86, "r": 6051.51}, {"lat": 52.23, "r": 6051.88},
      {"lat": 53.61, "r": 6051.86}
    ]
  },
  "layer": [
    {
      "data": {"name": "raw"},
      "mark": {"type": "circle", "size": 130, "color": "black", "opacity": 1},
      "encoding": {
        "x": {
          "field": "lat",
          "type": "quantitative",
          "scale": {"domain": [-90, 90], "nice": false, "zero": false},
          "axis": {
            "orient": "bottom",
            "labels": false,
            "title": null,
            "values": [-90, -85, -80, -75, -70, -65, -60, -55, -50, -45, -40, -35, -30, -25, -20, -15, -10, -5, 0, 5, 10, 15, 20, 25, 30, 35, 40, 45, 50, 55, 60, 65, 70, 75, 80, 85, 90],
            "gridDash": [57, 2282]
          }
        },
        "y": {
          "field": "r",
          "type": "quantitative",
          "scale": {"domain": [6045, 6065], "nice": false, "zero": false},
          "axis": {
            "orient": "left",
            "labels": false,
            "title": null,
            "values": [6045, 6046, 6047, 6048, 6049, 6050, 6051, 6052, 6053, 6054, 6055, 6056, 6057, 6058, 6059, 6060, 6061, 6062, 6063, 6064, 6065],
            "gridDash": [57, 2998]
          }
        }
      }
    },
    {
      "data": {"name": "smooth"},
      "mark": {"type": "circle", "size": 125, "color": "#ff0000", "opacity": 1},
      "encoding": {
        "x": {
          "field": "lat",
          "type": "quantitative",
          "scale": {"domain": [-90, 90], "nice": false, "zero": false},
          "axis": {
            "orient": "bottom",
            "title": "Latitude, deg",
            "titleY": 160,
            "titleBaseline": "alphabetic",
            "labelPadding": 20,
            "values": [-90, -60, -30, 0, 30, 60, 90],
            "gridDash": [113, 2170]
          }
        },
        "y": {
          "field": "r",
          "type": "quantitative",
          "scale": {"domain": [6045, 6065], "nice": false, "zero": false},
          "axis": {
            "orient": "left",
            "title": "Radius, km",
            "titleX": -272,
            "titleY": 1198,
            "titleAngle": -90,
            "titleBaseline": "alphabetic",
            "labelPadding": 43,
            "labelOffset": 4,
            "values": [6045, 6050, 6055, 6060, 6065],
            "gridDash": [113, 2886]
          }
        }
      }
    }
  ],
  "resolve": {"axis": {"x": "independent", "y": "independent"}}
}
